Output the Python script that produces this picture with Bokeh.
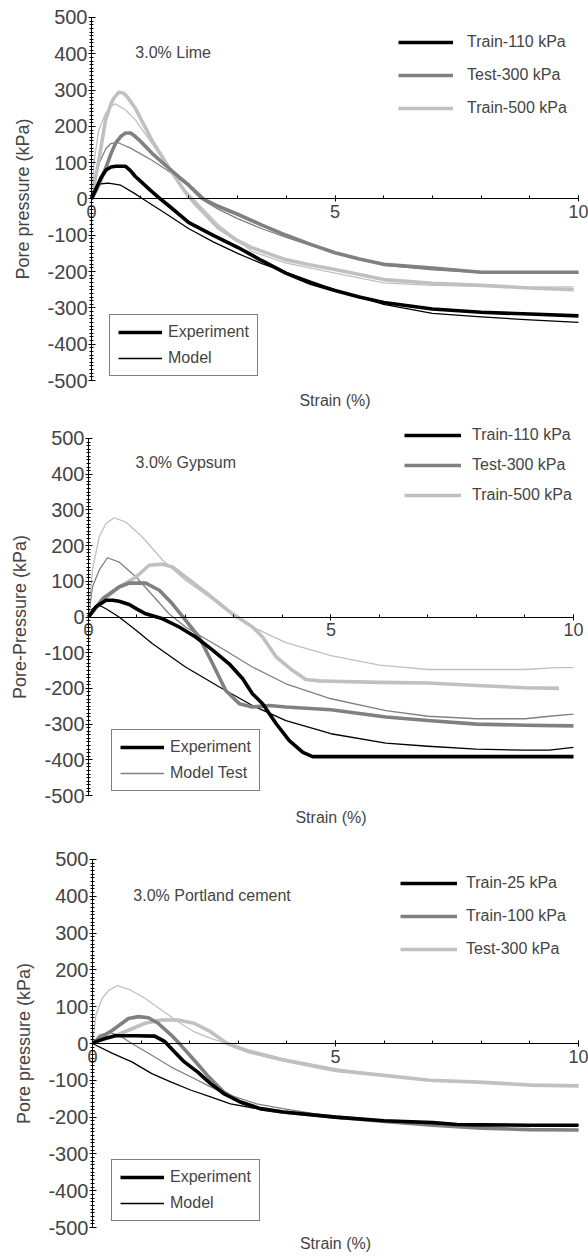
from bokeh.plotting import figure
from bokeh.models import Range1d, LinearAxis, SingleIntervalTicker, Label, Legend, LegendItem, PrintfTickFormatter
from bokeh.layouts import column
from bokeh.embed import file_html
from bokeh.resources import INLINE

FONT = "Liberation Sans"
BLACK, GRAY, LIGHT = "#000000", "#808080", "#c0c0c0"

# ---------------- Panel 1: 3.0% Lime ----------------
lime_exp110_x = [0, 0.1, 0.2, 0.3, 0.4, 0.5, 0.7, 0.8, 0.9, 1.0, 1.2, 1.4, 1.6, 2.0, 2.5, 3.0, 3.5, 4.0, 4.5, 5.0, 5.5, 6.0, 7.0, 8.0, 9.0, 10.0]
lime_exp110_y = [0, 30, 60, 80, 88, 90, 90, 78, 62, 50, 25, 2, -20, -65, -100, -133, -170, -205, -232, -252, -270, -285, -303, -312, -317, -322]
lime_mod110_x = [0, 0.1, 0.2, 0.35, 0.6, 0.9, 1.0, 1.5, 2.0, 2.5, 3.0, 3.5, 4.0, 5.0, 6.0, 7.0, 8.0, 9.0, 10.0]
lime_mod110_y = [0, 30, 42, 44, 38, 14, 5, -38, -82, -118, -150, -178, -202, -250, -290, -315, -325, -333, -340]
lime_exp300_x = [0, 0.1, 0.2, 0.3, 0.4, 0.5, 0.6, 0.7, 0.8, 0.9, 1.0, 1.25, 1.5, 1.8, 2.0, 2.3, 2.6, 3.0, 3.5, 4.0, 4.5, 5.0, 5.5, 6.0, 7.0, 8.0, 9.0, 10.0]
lime_exp300_y = [0, 25, 55, 88, 125, 155, 172, 182, 182, 172, 160, 125, 95, 60, 38, 0, -20, -42, -72, -100, -125, -148, -165, -180, -190, -202, -202, -202]
lime_mod300_x = [0, 0.05, 0.15, 0.3, 0.4, 0.55, 0.8, 1.0, 1.25, 1.6, 1.95, 2.25, 2.6, 3.0, 3.5, 4.0, 4.5, 5.0, 6.0, 7.0, 8.0, 9.0, 10.0]
lime_mod300_y = [0, 50, 97, 140, 153, 155, 140, 125, 106, 75, 40, 0, -28, -54, -82, -106, -128, -148, -182, -195, -203, -205, -205]
lime_exp500_x = [0, 0.15, 0.29, 0.4, 0.46, 0.56, 0.65, 0.73, 0.9, 1.24, 1.58, 1.93, 2.13, 2.6, 3.0, 3.29, 3.98, 4.5, 5.0, 6.0, 7.0, 8.0, 9.0, 9.9]
lime_exp500_y = [0, 106, 218, 262, 278, 294, 292, 282, 250, 162, 88, 18, -14, -79, -115, -134, -167, -182, -194, -222, -232, -238, -245, -250]
lime_mod500_x = [0, 0.05, 0.15, 0.29, 0.4, 0.49, 0.7, 0.9, 1.24, 1.58, 1.93, 2.13, 2.6, 3.29, 3.98, 5.0, 6.0, 7.0, 8.0, 9.0, 9.9]
lime_mod500_y = [0, 100, 190, 236, 255, 262, 245, 218, 153, 88, 23, -5, -70, -144, -176, -204, -231, -238, -240, -243, -242]

# ---------------- Panel 2: 3.0% Gypsum ----------------
gyp_exp110_x = [0, 0.15, 0.36, 0.5, 0.63, 0.84, 1.0, 1.18, 1.53, 1.87, 2.21, 2.56, 2.9, 3.18, 3.38, 3.59, 3.87, 4.14, 4.42, 4.62, 5.0, 6.0, 7.0, 8.0, 9.0, 10.0]
gyp_exp110_y = [0, 28, 47, 47, 44, 35, 22, 9, -5, -28, -56, -93, -131, -173, -215, -243, -299, -346, -379, -391, -391, -391, -391, -391, -391, -391]
gyp_mod110_x = [0, 0.08, 0.22, 0.36, 0.63, 0.98, 1.32, 2.0, 2.7, 3.38, 4.07, 5.0, 6.13, 7.0, 8.0, 9.0, 9.5, 10.0]
gyp_mod110_y = [0, 23, 33, 23, 0, -37, -75, -140, -196, -248, -290, -327, -353, -362, -370, -373, -373, -365]
gyp_exp300_x = [0, 0.29, 0.63, 0.84, 1.18, 1.46, 1.73, 2.0, 2.28, 2.56, 2.83, 3.11, 3.38, 3.73, 4.07, 5.0, 6.13, 7.0, 8.0, 9.0, 10.0]
gyp_exp300_y = [0, 51, 84, 95, 95, 75, 37, -9, -56, -131, -206, -243, -252, -248, -252, -260, -280, -290, -300, -303, -305]
gyp_mod300_x = [0, 0.08, 0.22, 0.39, 0.63, 0.98, 1.32, 1.66, 2.0, 2.7, 3.38, 4.07, 5.0, 6.13, 7.0, 8.0, 9.0, 9.5, 10.0]
gyp_mod300_y = [0, 84, 131, 166, 154, 112, 61, 9, -28, -84, -140, -187, -229, -262, -278, -285, -285, -278, -272]
gyp_exp500_x = [0, 0.29, 0.63, 0.98, 1.25, 1.53, 1.73, 2.0, 2.49, 2.97, 3.38, 3.59, 3.87, 4.21, 4.48, 4.76, 5.0, 6.0, 7.0, 8.0, 9.0, 9.7]
gyp_exp500_y = [0, 47, 84, 112, 145, 148, 140, 112, 61, 9, -28, -56, -112, -150, -175, -179, -180, -183, -185, -192, -198, -200]
gyp_mod500_x = [0, 0.08, 0.22, 0.36, 0.53, 0.77, 1.11, 1.53, 2.0, 2.49, 2.97, 3.38, 4.07, 5.0, 6.0, 7.0, 8.0, 9.0, 9.65, 10.0]
gyp_mod500_y = [0, 131, 224, 262, 278, 266, 224, 159, 103, 56, 5, -28, -72, -108, -135, -147, -147, -147, -142, -142]

# ---------------- Panel 3: 3.0% Portland cement ----------------
pc_exp25_x = [0, 0.07, 0.27, 0.47, 0.88, 1.28, 1.49, 1.69, 1.89, 2.16, 2.43, 2.7, 3.04, 3.45, 3.92, 5.0, 6.0, 7.0, 7.5, 8.0, 9.0, 10.0]
pc_exp25_y = [0, 5, 14, 21, 21, 20, 5, -23, -50, -77, -109, -136, -159, -177, -186, -200, -210, -215, -220, -221, -222, -222]
pc_mod25_x = [0, 0.41, 0.81, 1.22, 1.62, 2.03, 2.43, 2.84, 3.38, 3.92, 5.0, 6.0, 7.0, 8.0, 9.0, 10.0]
pc_mod25_y = [0, -27, -50, -82, -105, -127, -145, -164, -177, -186, -203, -212, -217, -220, -222, -222]
pc_exp100_x = [0, 0.14, 0.41, 0.74, 0.95, 1.15, 1.35, 1.62, 1.82, 2.09, 2.36, 2.7, 3.04, 3.45, 3.92, 5.0, 6.0, 7.0, 8.0, 9.0, 10.0]
pc_exp100_y = [0, 14, 36, 68, 73, 70, 55, 23, -5, -45, -86, -132, -159, -177, -186, -200, -212, -222, -230, -234, -235]
pc_mod100_x = [0, 0.14, 0.34, 0.54, 0.81, 1.22, 1.62, 2.03, 2.43, 2.84, 3.38, 3.92, 5.0, 6.0, 7.0, 8.0, 9.0, 10.0]
pc_mod100_y = [0, 23, 30, 23, 0, -32, -64, -91, -118, -141, -164, -177, -200, -212, -222, -230, -234, -235]
pc_exp300_x = [0, 0.07, 0.41, 0.74, 1.08, 1.42, 1.76, 2.09, 2.43, 2.77, 3.24, 3.92, 5.0, 5.95, 6.93, 7.95, 9.03, 10.0]
pc_exp300_y = [0, 5, 18, 36, 55, 64, 64, 55, 32, 0, -23, -45, -73, -86, -100, -105, -113, -115]
pc_mod300_x = [0, 0.07, 0.2, 0.34, 0.51, 0.74, 1.08, 1.42, 1.76, 2.09, 2.43, 2.77, 3.24, 3.92, 5.0, 5.95, 7.0, 8.0, 9.0, 10.0]
pc_mod300_y = [0, 77, 123, 145, 157, 148, 123, 91, 59, 32, 14, 0, -18, -41, -68, -86, -100, -104, -112, -113]

y_ticks_interval = 100
x_ticks_interval = 5

panels = [
    dict(height=413, xr=(-1.8686, 10.2053), yr=(-590.9, 546.8),
         ylabel="Pore pressure (kPa)", title="3.0% Lime", title_xy=(0.9, 404), strain_y=-555,
         series=[("Train-110 kPa", lime_exp110_x, lime_exp110_y, lime_mod110_x, lime_mod110_y, BLACK),
                 ("Test-300 kPa", lime_exp300_x, lime_exp300_y, lime_mod300_x, lime_mod300_y, GRAY),
                 ("Train-500 kPa", lime_exp500_x, lime_exp500_y, lime_mod500_x, lime_mod500_y, LIGHT)],
         top_leg=dict(loc=(398, 295), gw=55, stand=14, spacing=13),
         bot_leg=dict(loc=(109, 37), model_label="Model", model_idx=0)),
    dict(height=416, xr=(-1.8144, 10.3093), yr=(-595.2, 570.0),
         ylabel="Pore-Pressure (kPa)", title="3.0% Gypsum", title_xy=(0.97, 434), strain_y=-561.6,
         series=[("Train-110 kPa", gyp_exp110_x, gyp_exp110_y, gyp_mod110_x, gyp_mod110_y, BLACK),
                 ("Test-300 kPa", gyp_exp300_x, gyp_exp300_y, gyp_mod300_x, gyp_mod300_y, GRAY),
                 ("Train-500 kPa", gyp_exp500_x, gyp_exp500_y, gyp_mod500_x, gyp_mod500_y, LIGHT)],
         top_leg=dict(loc=(404, 324), gw=57, stand=11, spacing=10),
         bot_leg=dict(loc=(111, 38), model_label="Model Test", model_idx=1)),
    dict(height=429, xr=(-1.893, 10.206), yr=(-584.2, 581.5),
         ylabel="Pore pressure (kPa)", title="3.0% Portland cement", title_xy=(0.84, 402), strain_y=-543.5,
         series=[("Train-25 kPa", pc_exp25_x, pc_exp25_y, pc_mod25_x, pc_mod25_y, BLACK),
                 ("Train-100 kPa", pc_exp100_x, pc_exp100_y, pc_mod100_x, pc_mod100_y, GRAY),
                 ("Test-300 kPa", pc_exp300_x, pc_exp300_y, pc_mod300_x, pc_mod300_y, LIGHT)],
         top_leg=dict(loc=(400, 299), gw=57, stand=9, spacing=13),
         bot_leg=dict(loc=(111, 37), model_label="Model", model_idx=0)),
]


def make_panel(cfg):
    p = figure(width=588, height=cfg["height"], x_range=Range1d(*cfg["xr"]), y_range=Range1d(*cfg["yr"]),
               output_backend="svg", toolbar_location=None,
               x_axis_location=None, y_axis_location=None,
               min_border_left=0, min_border_right=0,
               min_border_top=0, min_border_bottom=0)
    p.xgrid.visible = False
    p.ygrid.visible = False
    p.outline_line_color = None
    p.background_fill_color = "white"
    p.border_fill_color = "white"

    yaxis = LinearAxis(ticker=SingleIntervalTicker(interval=y_ticks_interval, num_minor_ticks=10),
                       formatter=PrintfTickFormatter(format="%d"),
                       bounds=(-500, 500), fixed_location=0,
                       axis_label=cfg["ylabel"], axis_label_text_font=FONT,
                       axis_label_text_font_size="18px", axis_label_text_font_style="normal",
                       axis_label_standoff=11,
                       major_label_text_font=FONT, major_label_text_font_size="20px",
                       major_label_standoff=1,
                       major_tick_in=4, major_tick_out=3, minor_tick_in=2, minor_tick_out=2,
                       axis_line_color="black", major_tick_line_color="black", minor_tick_line_color="black")
    p.add_layout(yaxis, "left")

    xaxis = LinearAxis(ticker=SingleIntervalTicker(interval=x_ticks_interval, num_minor_ticks=5),
                       bounds=(0, 10), fixed_location=0,
                       major_label_text_font=FONT, major_label_text_font_size="18px",
                       major_label_standoff=3,
                       major_tick_in=3, major_tick_out=3, minor_tick_in=3, minor_tick_out=0,
                       axis_line_color="black", major_tick_line_color="black", minor_tick_line_color="black")
    p.add_layout(xaxis, "below")

    exp_r, mod_r = [], []
    for name, ex, ey, mx, my, col in cfg["series"]:
        mod_r.append(p.line(mx, my, line_color=col, line_width=1.3, line_join="round"))
    for name, ex, ey, mx, my, col in reversed(cfg["series"]):
        exp_r.insert(0, p.line(ex, ey, line_color=col, line_width=3.6, line_join="round"))

    tl = cfg["top_leg"]
    top = Legend(items=[LegendItem(label=s[0], renderers=[r]) for s, r in zip(cfg["series"], exp_r)],
                 location=tl["loc"], border_line_color=None, background_fill_alpha=0,
                 label_text_font=FONT, label_text_font_size="16px",
                 glyph_width=tl["gw"], glyph_height=20, label_height=20,
                 label_standoff=tl["stand"], spacing=tl["spacing"], padding=0, margin=0)
    p.add_layout(top)

    bl = cfg["bot_leg"]
    bot = Legend(items=[LegendItem(label="Experiment", renderers=[exp_r[0]]),
                        LegendItem(label=bl["model_label"], renderers=[mod_r[bl["model_idx"]]])],
                 location=bl["loc"], border_line_color="black", border_line_width=1,
                 background_fill_color="white", background_fill_alpha=1,
                 label_text_font=FONT, label_text_font_size="16px",
                 glyph_width=44, glyph_height=18, label_height=18,
                 label_standoff=6, spacing=8, padding=8, margin=0)
    p.add_layout(bot)

    tx, ty = cfg["title_xy"]
    p.add_layout(Label(x=tx, y=ty, text=cfg["title"], text_font=FONT, text_font_size="16px",
                       text_baseline="middle", text_align="left"))
    p.add_layout(Label(x=5, y=cfg["strain_y"], text="Strain (%)", text_font=FONT,
                       text_font_size="16px", text_baseline="middle", text_align="center"))
    return p


figs = [make_panel(c) for c in panels]
layout = column(*figs, spacing=0)
open("out.html", "w").write(file_html(layout, INLINE))
